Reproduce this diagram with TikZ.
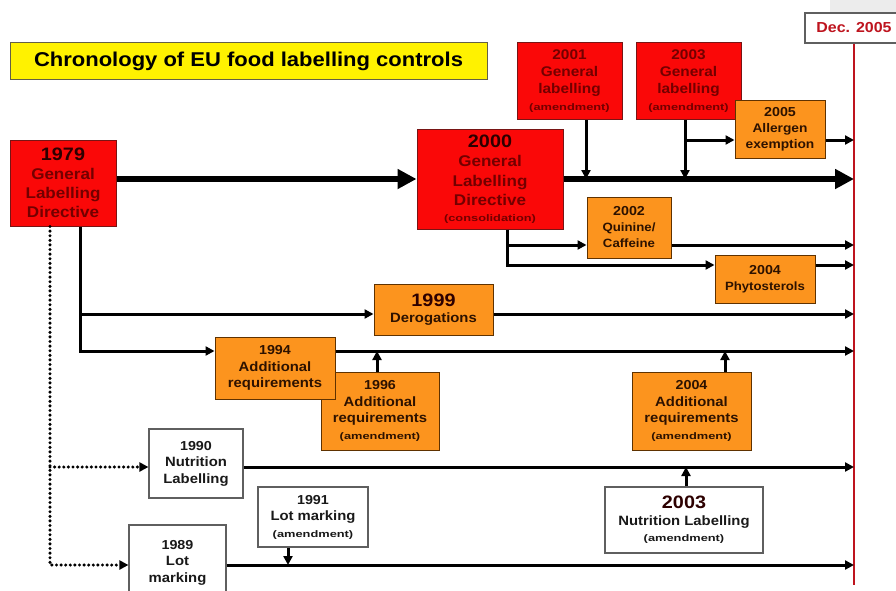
\documentclass[tikz,border=0pt]{standalone}
\usepackage{fontspec}
\setmainfont{Liberation Sans}[FakeStretch=1.1]
\newfontfamily\widefont{Liberation Sans}[FakeStretch=1.35]
\usetikzlibrary{arrows.meta}
\definecolor{boxred}{RGB}{250,8,8}
\definecolor{redline}{RGB}{120,20,20}
\definecolor{redtext}{RGB}{115,0,0}
\definecolor{yeardark}{RGB}{45,0,0}
\definecolor{boxorange}{RGB}{252,148,30}
\definecolor{orangeline}{RGB}{95,50,0}
\definecolor{orangetext}{RGB}{45,18,0}
\definecolor{greyline}{RGB}{95,95,95}
\definecolor{greytext}{RGB}{25,25,25}
\definecolor{decred}{RGB}{190,20,30}
\definecolor{cornergrey}{RGB}{236,236,236}
\newcommand{\yr}[1]{{\fontsize{13}{16}\selectfont #1}}
\newcommand{\bigyr}[1]{{\color{yeardark}\fontsize{18}{19}\selectfont #1}}
\newcommand{\amd}[1]{{\widefont\fontsize{9.5}{12}\selectfont #1}}
\begin{document}
\begin{tikzpicture}[x=1pt,y=-1pt]
    \tikzstyle{every node}=[inner sep=2pt,align=center,font=\bfseries\fontsize{13.5}{16.5}\selectfont]
    \tikzstyle{redbox}=[draw=redline,fill=boxred,text=redtext,line width=1pt]
    \tikzstyle{orangebox}=[draw=orangeline,fill=boxorange,text=orangetext,line width=1pt]
    \tikzstyle{whitebox}=[draw=greyline,fill=white,text=greytext,line width=1.2pt]
    \tikzstyle{flow}=[line width=3pt,-{Triangle[length=9pt,width=9pt]}]
    \tikzstyle{mainflow}=[line width=6pt,-{Triangle[length=19pt,width=19pt]}]
    \tikzstyle{dotflow}=[flow,line width=3.4pt,line cap=round,dash pattern=on 0pt off 4.6pt]
    \clip (0,0) rectangle (896,591);
    \fill[cornergrey] (830,0) rectangle (896,13);
    % title and deadline
    \node[draw=black!70!yellow,fill=yellow,line width=1pt,minimum width=477pt,minimum height=37pt,
          font=\bfseries\fontsize{20}{22}\selectfont](title)at(248.5,61.5){Chronology of EU food labelling controls};
    \node[whitebox,text=decred,minimum width=98pt,minimum height=30pt,
          font=\bfseries\fontsize{14.5}{17}\selectfont](dec)at(854,28){Dec. 2005};
    \coordinate(dend)at(854,585);
    \draw[decred,line width=1.6pt](dec.south)--(dend);
    % general labelling directive
    \node[redbox,minimum width=106pt,minimum height=86pt,font=\bfseries\fontsize{15.5}{19}\selectfont]
          (y1979)at(63,183){\bigyr{1979}\\General\\Labelling\\Directive};
    \node[redbox,minimum width=146pt,minimum height=100pt,font=\bfseries\fontsize{15.5}{19.5}\selectfont]
          (y2000)at(490,179){\bigyr{2000}\\General\\Labelling\\Directive\\[-4pt]\amd{(consolidation)}};
    \node[redbox,minimum width=105pt,minimum height=77pt,font=\bfseries\fontsize{14}{17}\selectfont]
          (y2001)at(569.5,81.5){2001\\General\\labelling\\\amd{(amendment)}};
    \node[redbox,minimum width=105pt,minimum height=77pt,font=\bfseries\fontsize{14}{17}\selectfont]
          (y2003g)at(688.5,81.5){2003\\General\\labelling\\\amd{(amendment)}};
    \node[orangebox,minimum width=90pt,minimum height=57pt,font=\bfseries\fontsize{12.5}{16}\selectfont]
          (y2005)at(780,129.5){\yr{2005}\\Allergen\\exemption};
    \node[orangebox,minimum width=84pt,minimum height=61pt,font=\bfseries\fontsize{12}{16}\selectfont]
          (y2002)at(629,227.5){\yr{2002}\\Quinine/\\Caffeine};
    \node[orangebox,minimum width=100pt,minimum height=48pt,font=\bfseries\fontsize{12}{16}\selectfont]
          (y2004p)at(765,279){\yr{2004}\\Phytosterols};
    % additional requirements
    \node[orangebox,minimum width=119pt,minimum height=51pt](y1999)at(433.5,309.5){\bigyr{1999}\\Derogations};
    \node[orangebox,minimum width=118pt,minimum height=78pt](y1996)at(380,411)
          {\yr{1996}\\Additional\\requirements\\\amd{(amendment)}};
    \node[orangebox,minimum width=120pt,minimum height=62pt](y1994)at(275,368){\yr{1994}\\Additional\\requirements};
    \node[orangebox,minimum width=119pt,minimum height=78pt](y2004a)at(691.5,411)
          {\yr{2004}\\Additional\\requirements\\\amd{(amendment)}};
    % nutrition labelling, lot marking
    \node[whitebox,minimum width=94pt,minimum height=69pt](y1990)at(196,463.5){\yr{1990}\\Nutrition\\Labelling};
    \node[whitebox,minimum width=158pt,minimum height=66pt](y2003n)at(684,520)
          {\bigyr{2003}\\Nutrition Labelling\\\amd{(amendment)}};
    \node[whitebox,minimum width=110pt,minimum height=60pt](y1991)at(313,517){\yr{1991}\\Lot marking\\\amd{(amendment)}};
    \node[whitebox,minimum width=97pt,minimum height=75pt](y1989)at(177.5,562.5){\yr{1989}\\Lot\\marking};
    % joints
    \coordinate(j2001)at(586,179);
    \coordinate(j2003)at(685,179);
    \coordinate(b2003)at(685,140);
    \coordinate(k1)at(507,245);
    \coordinate(k2)at(507,265);
    \coordinate(m1)at(80,314);
    \coordinate(m2)at(80,351);
    \coordinate(u1996)at(377,351);
    \coordinate(u2004)at(725,351);
    \coordinate(d1)at(50,467);
    \coordinate(d2)at(50,565);
    \coordinate(u2003)at(686,467);
    \coordinate(u1991)at(288,565);
    % main line
    \draw[mainflow](y1979.east|-y2000.west)--(y2000.west);
    \draw[mainflow](y2000.east)--(dec.south|-y2000.east);
    \draw[flow](y2001.south-|j2001)--(j2001);
    \draw[flow](y2003g.south-|j2003)--(j2003);
    \draw[flow](b2003)--(y2005.west|-b2003);
    \draw[flow](y2005.east|-b2003)--(dec.south|-b2003);
    % branches of 2000
    \draw[flow](y2000.south-|k2)--(k2)--(y2004p.west|-k2);
    \draw[flow](k1)--(y2002.west|-k1);
    \draw[flow](y2002.east|-k1)--(dec.south|-k1);
    \draw[flow](y2004p.east|-k2)--(dec.south|-k2);
    % branches of 1979
    \draw[flow](y1979.south-|m2)--(m2)--(y1994.west|-m2);
    \draw[flow](m1)--(y1999.west|-m1);
    \draw[flow](y1999.east|-m1)--(dec.south|-m1);
    \draw[flow](y1994.east|-m2)--(dec.south|-m2);
    \draw[flow](y1996.north-|u1996)--(u1996);
    \draw[flow](y2004a.north-|u2004)--(u2004);
    \draw[dotflow](y1979.south-|d2)--(d2)--(y1989.west|-d2);
    \draw[dotflow](d1)--(y1990.west|-d1);
    \draw[flow](y1990.east|-d1)--(dec.south|-d1);
    \draw[flow](y1989.east|-d2)--(dec.south|-d2);
    \draw[flow](y2003n.north-|u2003)--(u2003);
    \draw[flow](y1991.south-|u1991)--(u1991);
\end{tikzpicture}
\end{document}
